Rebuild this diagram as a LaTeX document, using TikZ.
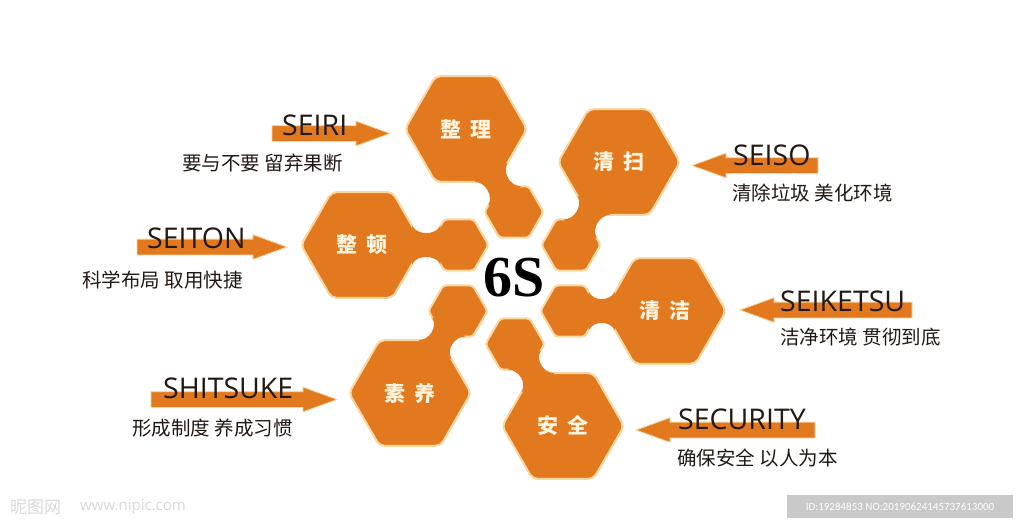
\documentclass[tikz,border=0pt]{standalone}
\usepackage{fontspec}
\usetikzlibrary{shapes.geometric,shapes.arrows,calc}
\newfontfamily\cjk{Noto Sans CJK SC}
\newfontfamily\latf{Open Sans}
\newfontfamily\sixs{Liberation Serif}
\newfontfamily\idf{Carlito}
\definecolor{org}{RGB}{226,121,31}
\definecolor{glow}{RGB}{250,214,160}
\definecolor{txt}{RGB}{35,25,20}
\definecolor{hextxt}{RGB}{255,244,224}
% neck joining big hexagon #1 to small hexagon #2, direction #3 (degrees)
\newcommand{\hexneck}[3]{%
  \fill[org] ($(#1)+(#3:61)+(#3+120:22)$)
    .. controls +(#3-60:11) and +(#3+240:11) .. ($(#2)+(#3+180:29.5)+(#3+60:22)$)
    -- ($(#2)+(#3+180:29.5)+(#3-60:22)$)
    .. controls +(#3+120:11) and +(#3+60:11) .. ($(#1)+(#3:61)+(#3-120:22)$)
    -- cycle;}
\begin{document}
\begin{tikzpicture}[x=1pt,y=-1pt,
  bighex/.style={regular polygon, regular polygon sides=6, minimum size=122pt, inner sep=0pt, outer sep=0pt,
    fill=org, draw=glow, line width=2pt, rounded corners=5pt, text=hextxt,
    font=\cjk\bfseries\fontsize{21}{21}\selectfont},
  smallhex/.style={regular polygon, regular polygon sides=6, minimum size=59pt, inner sep=0pt, outer sep=0pt,
    fill=org, draw=glow, line width=2pt, rounded corners=3pt},
  arr/.style={single arrow, fill=org, draw=glow, line width=0.8pt, inner xsep=0pt, inner ysep=7.5pt, outer sep=0pt,
    single arrow head extend=4.5pt, single arrow tip angle=40, anchor=tail},
  larr/.style={arr, shape border rotate=180},
  lat/.style={font=\latf\fontsize{28.5}{28.5}\selectfont, text=txt, inner sep=0pt, anchor=base west},
  sub/.style={font=\cjk\fontsize{19.5}{19.5}\selectfont, text=txt, inner sep=0pt, anchor=west}
]
\fill[white] (0,0) rectangle (1024,525);
\useasboundingbox (0,0) rectangle (1024,525);

% small hexagons (ring)
\node[smallhex] (s1) at (514,212) {};
\node[smallhex] (s2) at (571,245) {};
\node[smallhex] (s3) at (570,311) {};
\node[smallhex] (s4) at (515,344) {};
\node[smallhex] (s5) at (458,311) {};
\node[smallhex] (s6) at (459,245) {};

% big hexagons
\node[bighex] (b1) at (466,129) {整\hspace{9pt}理};
\node[bighex] (b2) at (619,162) {清\hspace{9pt}扫};
\node[bighex] (b3) at (665,311) {清\hspace{9pt}洁};
\node[bighex] (b4) at (563,426) {安\hspace{9pt}全};
\node[bighex] (b5) at (410,393) {素\hspace{9pt}养};
\node[bighex] (b6) at (362,245) {整\hspace{9pt}顿};

% necks
\hexneck{b1}{s1}{60}
\hexneck{b2}{s2}{120}
\hexneck{b3}{s3}{180}
\hexneck{b4}{s4}{240}
\hexneck{b5}{s5}{300}
\hexneck{b6}{s6}{0}

% centre
\node[font=\sixs\bfseries\fontsize{58}{58}\selectfont, text=black, inner sep=0pt] (c) at (514,278) {6S};

% arrows
\node[arr, minimum height=118pt] (a1) at (272,133.5) {};
\node[arr, minimum height=150pt] (a6) at (137,247) {};
\node[arr, minimum height=186pt] (a5) at (151,399.5) {};
\node[larr, minimum height=126pt] (a2) at (818,165.5) {};
\node[larr, minimum height=172pt] (a3) at (912,310) {};
\node[larr, minimum height=179pt] (a4) at (815,430) {};

% labels
\node[lat] (l1) at (282,135) {SEIRI};
\node[lat] (l6) at (147,248) {SEITON};
\node[lat] (l5) at (163,398) {SHITSUKE};
\node[lat] (l2) at (733,165) {SEISO};
\node[lat] (l3) at (780,311) {SEIKETSU};
\node[lat] (l4) at (678,429) {SECURITY};

\node[sub] (t1) at (182,163.5) {要与不要 留弃果断};
\node[sub] (t6) at (82,280) {科学布局 取用快捷};
\node[sub] (t5) at (132,428) {形成制度 养成习惯};
\node[sub] (t2) at (732,193) {清除垃圾 美化环境};
\node[sub] (t3) at (780,337) {洁净环境 贯彻到底};
\node[sub] (t4) at (677,458) {确保安全 以人为本};

% watermark
\node[font=\cjk\fontsize{17}{17}\selectfont, text=gray!30, anchor=west, inner sep=0pt] (w1) at (10,507) {昵图网};
\node[font=\latf\fontsize{15}{15}\selectfont, text=gray!30, anchor=west, inner sep=0pt] (w2) at (80,507) {www.nipic.com};
\node[fill=gray!42, text=white, font=\idf\fontsize{11}{11}\selectfont, minimum width=226pt, minimum height=23pt, inner sep=0pt] (idb) at (900,506.5) {ID:19284853 NO:20190624145737613000};
\end{tikzpicture}
\end{document}
